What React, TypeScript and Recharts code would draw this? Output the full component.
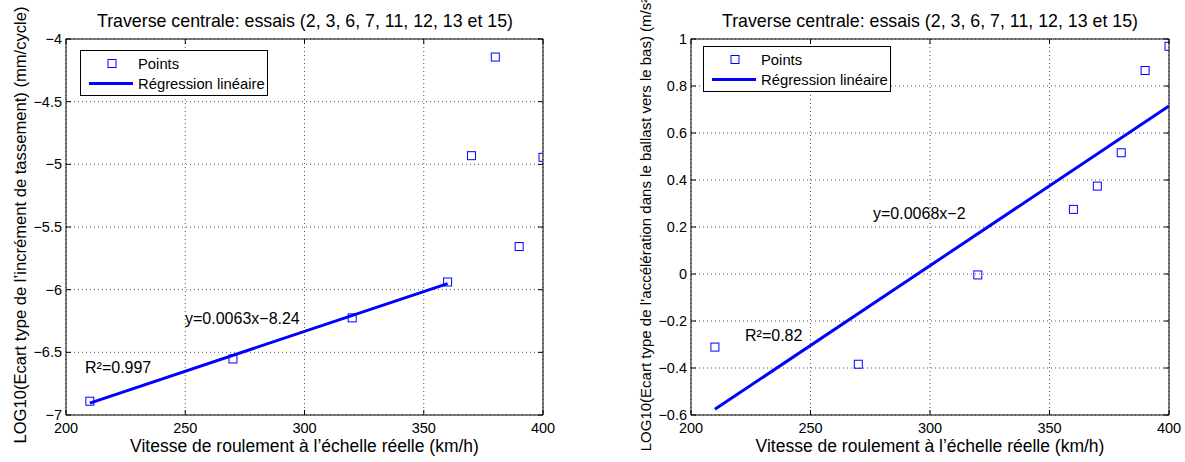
import React from 'react';
import {
  ScatterChart,
  Scatter,
  XAxis,
  YAxis,
  CartesianGrid,
  ReferenceArea,
  Legend,
} from 'recharts';

// vitesses d'essai (km/h)
const speeds = [210, 270, 320, 360, 370, 380, 390, 400];
// LOG10 écart type incrément de tassement
const tassement = [-6.89, -6.553, -6.225, -5.939, -4.931, -4.144, -5.656, -4.944];
// LOG10 écart type accélération ballast
const acceleration = [-0.311, -0.384, -0.004, 0.275, 0.374, 0.516, 0.866, 0.969];

// extrémités des droites de régression
const regTassementX = [210, 360];
const regTassementY = [-6.905, -5.952];
const regAccelX = [210, 400];
const regAccelY = [-0.576, 0.715];

const xTicks = [200, 250, 300, 350, 400];
const tassementTicks = [-7, -6.5, -6, -5.5, -5, -4.5, -4];
const accelTicks = [-0.6, -0.4, -0.2, 0, 0.2, 0.4, 0.6, 0.8, 1];

const TITLE = 'Traverse centrale: essais (2, 3, 6, 7, 11, 12, 13 et 15)';
const XLABEL = 'Vitesse de roulement à l\u2019échelle réelle (km/h)';
const YLABEL_LEFT = 'LOG10(Ecart type de l\u2019incrément de tassement) (mm/cycle)';
const YLABEL_RIGHT = 'LOG10(Ecart type de l\u2019accélération dans le ballast vers le bas) (m/s\u00b2)';

const FONT = '"Liberation Sans", Arial, Helvetica, sans-serif';
const BLUE = '#0000ff';
const TICK_LEN = 5;

const zip = (xs: number[], ys: number[]) => xs.map((x, i) => ({ x, y: ys[i] }));

const fmt = (v: number) => (v < 0 ? '\u2212' : '') + String(Math.abs(v));

const Square = (props: any) => {
  const { cx, cy } = props;
  if (cx == null || cy == null) return <g />;
  return <rect x={cx - 4} y={cy - 4} width={8} height={8} fill="none" stroke={BLUE} strokeWidth={1} />;
};

const NoShape = () => <g />;

function makeXTick(plotH: number) {
  return (props: any) => {
    const { x, y, payload } = props;
    const axisY = y - 8;
    return (
      <g>
        <line x1={x} y1={axisY} x2={x} y2={axisY - TICK_LEN} stroke="#000" />
        <line x1={x} y1={axisY - plotH} x2={x} y2={axisY - plotH + TICK_LEN} stroke="#000" />
        <text x={x} y={y} dy="0.71em" textAnchor="middle" fontSize={14.5} fontFamily={FONT} fill="#000">
          {fmt(payload.value)}
        </text>
      </g>
    );
  };
}

function makeYTick(plotW: number) {
  return (props: any) => {
    const { x, y, payload } = props;
    const axisX = x + 4;
    return (
      <g>
        <line x1={axisX} y1={y} x2={axisX + TICK_LEN} y2={y} stroke="#000" />
        <line x1={axisX + plotW} y1={y} x2={axisX + plotW - TICK_LEN} y2={y} stroke="#000" />
        <text x={x} y={y} dy="0.355em" textAnchor="end" fontSize={14.5} fontFamily={FONT} fill="#000">
          {fmt(payload.value)}
        </text>
      </g>
    );
  };
}

const LegendBox = () => (
  <svg width={189} height={47} style={{ display: 'block' }}>
    <rect x={0.5} y={0.5} width={187} height={45} fill="#fff" stroke="#000" strokeWidth={1} />
    <rect x={28} y={9.5} width={8} height={8} fill="none" stroke={BLUE} />
    <line x1={9} y1={33.5} x2={53} y2={33.5} stroke={BLUE} strokeWidth={3} />
    <text x={58} y={18.5} fontSize={14.8} fontFamily={FONT} fill="#000">Points</text>
    <text x={58} y={38.5} fontSize={14.8} fontFamily={FONT} fill="#000">Régression linéaire</text>
  </svg>
);

type PanelProps = {
  left: number;
  width: number;
  plotLeft: number;
  plotRight: number;
  yDomain: [number, number];
  yTicks: number[];
  points: { x: number; y: number }[];
  reg: { x: number; y: number }[];
  legendPos: { left: number; top: number };
};

const PLOT_TOP = 39;
const PLOT_BOTTOM = 415;
const HEIGHT = 462;

function Panel(p: PanelProps) {
  const plotW = p.plotRight - p.plotLeft;
  const plotH = PLOT_BOTTOM - PLOT_TOP;
  return (
    <div style={{ position: 'absolute', left: p.left, top: 0 }}>
      <ScatterChart
        width={p.width}
        height={HEIGHT}
        margin={{ top: PLOT_TOP, right: p.width - p.plotRight, bottom: HEIGHT - PLOT_BOTTOM - 30, left: p.plotLeft - 40 }}
      >
        <CartesianGrid
          stroke="#555"
          strokeDasharray="1 3"
          horizontalValues={p.yTicks}
          verticalValues={xTicks}
        />
        <XAxis
          type="number"
          dataKey="x"
          domain={[200, 400]}
          ticks={xTicks}
          allowDataOverflow
          height={30}
          axisLine={false}
          tickLine={false}
          tickSize={0}
          tickMargin={8}
          tick={makeXTick(plotH)}
          interval={0}
        />
        <YAxis
          type="number"
          dataKey="y"
          domain={p.yDomain}
          ticks={p.yTicks}
          allowDataOverflow
          width={40}
          axisLine={false}
          tickLine={false}
          tickSize={0}
          tickMargin={4}
          tick={makeYTick(plotW)}
          interval={0}
        />
        <ReferenceArea
          x1={200}
          x2={400}
          y1={p.yDomain[0]}
          y2={p.yDomain[1]}
          fill="none"
          stroke="#000"
          strokeWidth={1}
          fillOpacity={0}
        />
        <Scatter
          name="Régression linéaire"
          data={p.reg}
          line={{ stroke: BLUE, strokeWidth: 3 }}
          lineJointType="linear"
          shape={NoShape}
          isAnimationActive={false}
        />
        <Scatter name="Points" data={p.points} shape={Square} isAnimationActive={false} />
        <Legend
          layout="horizontal"
          verticalAlign="middle"
          align="center"
          content={LegendBox}
          wrapperStyle={{ position: 'absolute', left: p.legendPos.left, top: p.legendPos.top, width: 189, height: 47 }}
        />
      </ScatterChart>
    </div>
  );
}

export default function App() {
  const txt = { fontFamily: FONT, fill: '#000' } as const;
  return (
    <div style={{ position: 'absolute', left: 0, top: 0, width: 1185, height: HEIGHT, background: '#fff', overflow: 'hidden' }}>
      <Panel
        left={0}
        width={590}
        plotLeft={66}
        plotRight={543}
        yDomain={[-7, -4]}
        yTicks={tassementTicks}
        points={zip(speeds, tassement)}
        reg={zip(regTassementX, regTassementY)}
        legendPos={{ left: 80, top: 50 }}
      />
      <Panel
        left={595}
        width={590}
        plotLeft={96}
        plotRight={574}
        yDomain={[-0.6, 1]}
        yTicks={accelTicks}
        points={zip(speeds, acceleration)}
        reg={zip(regAccelX, regAccelY)}
        legendPos={{ left: 108, top: 46 }}
      />
      <svg width={1185} height={HEIGHT} style={{ position: 'absolute', left: 0, top: 0, pointerEvents: 'none' }}>
        <text x={305} y={27} textAnchor="middle" fontSize={17.8} {...txt}>{TITLE}</text>
        <text x={930} y={27} textAnchor="middle" fontSize={17.8} {...txt}>{TITLE}</text>
        <text x={304.5} y={452} textAnchor="middle" fontSize={17.5} {...txt}>{XLABEL}</text>
        <text x={930} y={452} textAnchor="middle" fontSize={17.5} {...txt}>{XLABEL}</text>
        <text x={26} y={225} textAnchor="middle" fontSize={16.6} transform="rotate(-90 26 225)" {...txt}>{YLABEL_LEFT}</text>
        <text x={651} y={222} textAnchor="middle" fontSize={15} transform="rotate(-90 651 222)" {...txt}>{YLABEL_RIGHT}</text>
        <text x={185} y={324} fontSize={16} {...txt}>y=0.0063x{'\u2212'}8.24</text>
        <text x={85} y={373} fontSize={16} {...txt}>R²=0.997</text>
        <text x={873} y={219} fontSize={16} {...txt}>y=0.0068x{'\u2212'}2</text>
        <text x={745} y={341} fontSize={16} {...txt}>R²=0.82</text>
      </svg>
    </div>
  );
}
